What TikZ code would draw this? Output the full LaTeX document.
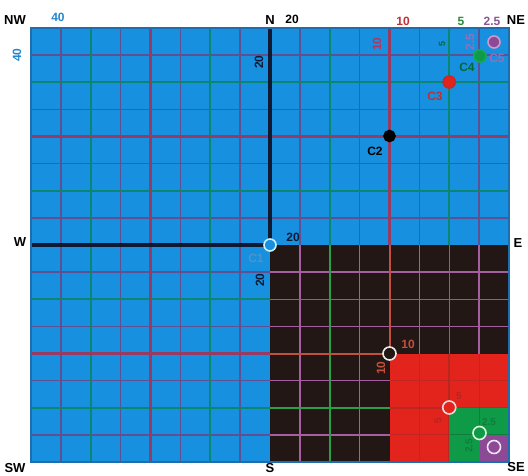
\documentclass[tikz,border=0pt]{standalone}
\usepackage{fontspec}
\setmainfont{Liberation Sans}
\definecolor{bgblue}{RGB}{24,144,224}
\definecolor{edgeblue}{RGB}{30,110,175}
\definecolor{qblack}{RGB}{34,23,21}
\definecolor{qred}{RGB}{226,36,28}
\definecolor{qgreen}{RGB}{14,154,71}
\definecolor{qpurple}{RGB}{140,74,150}
\definecolor{bpur}{RGB}{95,80,145}
\definecolor{bgrn}{RGB}{10,135,110}
\definecolor{bred}{RGB}{150,60,100}
\definecolor{axisnavy}{RGB}{15,25,50}
\definecolor{kpink}{RGB}{165,95,160}
\definecolor{kgrn}{RGB}{40,160,70}
\definecolor{kred}{RGB}{195,80,60}
\definecolor{rline}{RGB}{175,40,35}
\definecolor{gline}{RGB}{15,125,60}
\definecolor{lblblue}{RGB}{35,135,205}
\definecolor{lblred}{RGB}{185,50,55}
\definecolor{lblgreen}{RGB}{40,140,60}
\definecolor{lblpurple}{RGB}{140,85,145}
\definecolor{dkgreen}{RGB}{0,105,55}
\definecolor{mutpurple}{RGB}{150,110,185}
\definecolor{mutred}{RGB}{175,55,95}
\definecolor{c1blue}{RGB}{75,150,200}
\tikzset{
  compass/.style={font=\fontsize{13}{13}\selectfont\bfseries, text=black, inner sep=0pt},
  numlbl/.style={font=\fontsize{12}{12}\selectfont\bfseries, inner sep=0pt},
  clbl/.style={font=\fontsize{12}{12}\selectfont\bfseries, inner sep=0pt},
  dot/.style={circle, minimum size=12pt, inner sep=0pt, line width=1.6pt},
  ring/.style={circle, minimum size=13pt, inner sep=0pt, line width=1.6pt},
}
\begin{document}
\begin{tikzpicture}[x=1pt,y=-1pt]
\useasboundingbox (0,0) rectangle (528,475);
\fill[white] (0,0) rectangle (528,475);
% blue field
\fill[bgblue] (31,28) rectangle (509,462);
\foreach \k in {1,3,...,15}{
  \draw[bpur, line width=1.5pt] ({31+29.875*\k},28) -- ({31+29.875*\k},462);
  \draw[bpur, line width=1.5pt] (31,{28+27.125*\k}) -- (509,{28+27.125*\k});
}
\foreach \k in {2,6,10,14}{
  \draw[bgrn, line width=1.6pt] ({31+29.875*\k},28) -- ({31+29.875*\k},462);
  \draw[bgrn, line width=1.6pt] (31,{28+27.125*\k}) -- (509,{28+27.125*\k});
}
\foreach \k in {4,12}{
  \draw[bred, line width=2.2pt] ({31+29.875*\k},28) -- ({31+29.875*\k},462);
  \draw[bred, line width=2.2pt] (31,{28+27.125*\k}) -- (509,{28+27.125*\k});
}
\draw[axisnavy, line width=3.4pt] (270,28) -- (270,245);
\draw[axisnavy, line width=3.4pt] (31,245) -- (270,245);
% black quadrant
\fill[qblack] (270,245) rectangle (509,462);
\begin{scope}
\clip (270,245) rectangle (509,462);
\foreach \k in {9,11,13,15}{
  \draw[kpink, line width=1.4pt] ({31+29.875*\k},245) -- ({31+29.875*\k},462);
  \draw[kpink, line width=1.4pt] (270,{28+27.125*\k}) -- (509,{28+27.125*\k});
}
\foreach \k in {10,14}{
  \draw[kgrn, line width=1.5pt] ({31+29.875*\k},245) -- ({31+29.875*\k},462);
  \draw[kgrn, line width=1.5pt] (270,{28+27.125*\k}) -- (509,{28+27.125*\k});
}
\draw[kred, line width=2pt] (389.5,245) -- (389.5,353.5);
\draw[kred, line width=2pt] (270,353.5) -- (389.5,353.5);
\end{scope}
% red quadrant
\fill[qred] (389.5,353.5) rectangle (509,462);
\begin{scope}
\clip (389.5,353.5) rectangle (509,462);
\foreach \k in {13,15}{
  \draw[rline, line width=1pt, opacity=0.6] ({31+29.875*\k},353.5) -- ({31+29.875*\k},462);
  \draw[rline, line width=1pt, opacity=0.6] (389.5,{28+27.125*\k}) -- (509,{28+27.125*\k});
}
\draw[rline, line width=1.6pt, opacity=0.8] (449.25,353.5) -- (449.25,462);
\draw[rline, line width=1.6pt, opacity=0.8] (389.5,407.75) -- (509,407.75);
\end{scope}
% green quadrant
\fill[qgreen] (449.25,407.75) rectangle (509,462);
\begin{scope}
\clip (449.25,407.75) rectangle (509,462);
\draw[gline, line width=1.1pt] (479.1,407.75) -- (479.1,462);
\draw[gline, line width=1.1pt] (449.25,434.9) -- (509,434.9);
\end{scope}
% purple cell
\fill[qpurple] (479.1,434.9) rectangle (509,462);
% border
\draw[edgeblue, line width=2.4pt] (31,28) rectangle (509,462);

% points
\node[dot, fill=bgblue, draw={rgb,255:red,205;green,240;blue,250}] (c1) at (270,245) {};
\node[dot, fill=black, draw=black, minimum size=11pt] (c2) at (389.5,136) {};
\node[dot, fill=qred, draw={rgb,255:red,200;green,40;blue,40}] (c3) at (449.25,82) {};
\node[dot, fill=qgreen, draw={rgb,255:red,20;green,170;blue,80}] (c4) at (480,56) {};
\node[dot, fill=qpurple, draw={rgb,255:red,210;green,150;blue,200}] (c5) at (494,42) {};
\node[ring, fill=qblack, draw={rgb,255:red,235;green,235;blue,235}] (r2) at (389.5,353.5) {};
\node[ring, fill=qred, draw={rgb,255:red,245;green,215;blue,215}] (r3) at (449.25,407.5) {};
\node[ring, fill=qgreen, draw={rgb,255:red,215;green,250;blue,215}] (r4) at (479.5,433) {};
\node[ring, fill=qpurple, draw={rgb,255:red,245;green,225;blue,245}] (r5) at (494,447) {};

% compass labels
\node[compass] (nw) at (15,20) {NW};
\node[compass] (nn) at (270,20) {N};
\node[compass] (ne) at (516,20) {NE};
\node[compass] (ww) at (20,242) {W};
\node[compass] (ee) at (518,243) {E};
\node[compass] (sw) at (15,468) {SW};
\node[compass] (ss) at (270,468) {S};
\node[compass] (se) at (516,467) {SE};

% top scale labels
\node[numlbl, text=lblblue] (t40) at (58,17) {40};
\node[numlbl, text=lblblue, rotate=90] (l40) at (17,55) {40};
\node[numlbl, text=black] (t20) at (292,19) {20};
\node[numlbl, text=axisnavy, rotate=90] (l20) at (259,62) {20};
\node[numlbl, text=lblred] (t10) at (403,21) {10};
\node[numlbl, text=mutred, rotate=90] (l10) at (377,44) {10};
\node[numlbl, text=lblgreen] (t5) at (461,21) {5};
\node[numlbl, text=dkgreen, font=\fontsize{9}{9}\selectfont\bfseries, rotate=90] (l5) at (442,44) {5};
\node[numlbl, text=lblpurple] (t25) at (492,21) {2.5};
\node[numlbl, text=mutpurple, rotate=90] (l25) at (470,42) {2.5};

% point labels
\node[clbl, text=black] (lc2) at (375,151) {C2};
\node[clbl, text=lblred] (lc3) at (435,96) {C3};
\node[clbl, text=dkgreen] (lc4) at (467,67) {C4};
\node[clbl, text=mutpurple] (lc5) at (497,58) {C5};
\node[clbl, text=c1blue] (lc1) at (256,258) {C1};
\node[numlbl, text=axisnavy] (m20) at (293,237) {20};
\node[numlbl, text=axisnavy, rotate=90] (v20) at (260,280) {20};

% lower right labels
\node[numlbl, text=kred] (m10) at (408,344) {10};
\node[numlbl, text=kred, rotate=90] (v10) at (381,368) {10};
\node[numlbl, text=rline, font=\fontsize{10}{10}\selectfont\bfseries] (m5) at (459,396) {5};
\node[numlbl, text=rline, font=\fontsize{10}{10}\selectfont\bfseries, rotate=90] (v5) at (438,421) {5};
\node[numlbl, text=gline, font=\fontsize{10}{10}\selectfont\bfseries] (m25) at (489,422) {2.5};
\node[numlbl, text=gline, font=\fontsize{10}{10}\selectfont\bfseries, rotate=90] (v25) at (469,446) {2.5};
\end{tikzpicture}
\end{document}
